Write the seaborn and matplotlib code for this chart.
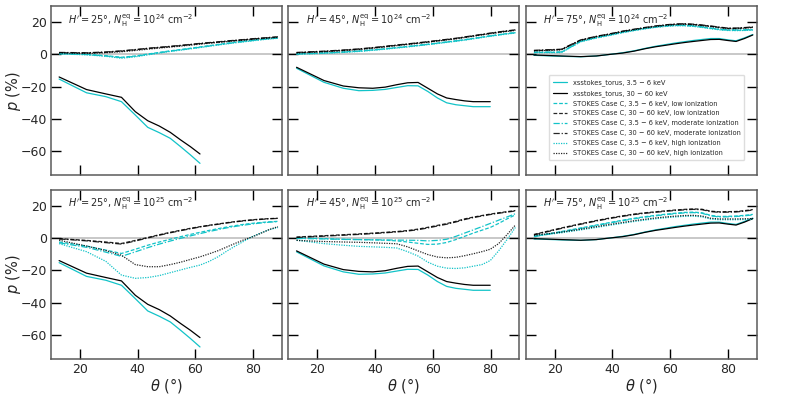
import matplotlib
matplotlib.use("Agg")
import matplotlib.pyplot as plt
import seaborn as sns
import numpy as np

# ---------------- data ----------------
THETA = [12.8, 22.3, 29.0, 34.4, 39.2, 43.5, 47.5, 51.3, 54.9, 58.3,
         61.6, 64.8, 68.0, 71.0, 74.0, 77.0, 79.9, 82.8, 85.7, 88.6]

# xsstokes_torus (same in both N_H rows)
xs_soft_h25 = [-15.3, -23.8, -26.2, -29.3, -37.6, -45.2, -48.5, -52.0, -57.2, -62.3, -67.5]
xs_hard_h25 = [-14.0, -21.8, -24.5, -26.6, -35.5, -41.1, -44.4, -48.3, -53.0, -57.2, -61.7]
xs_soft_h45 = [-8.6, -17.3, -21.0, -22.5, -22.3, -21.7, -20.5, -19.4, -19.5, -23.0,
               -27.0, -30.0, -31.2, -31.8, -32.4, -32.4, -32.4]
xs_hard_h45 = [-8.0, -16.2, -19.6, -20.7, -21.0, -20.3, -18.8, -17.6, -17.4, -21.0,
               -24.5, -27.0, -28.0, -28.8, -29.3, -29.3, -29.3]
xs_soft_h75 = [-0.6, -1.2, -1.5, -1.0, 0.0, 1.0, 2.2, 3.7, 5.0, 6.0,
               7.0, 7.8, 8.6, 9.2, 9.8, 9.8, 9.0, 8.4, 10.2, 12.3]
xs_hard_h75 = [-0.4, -1.0, -1.4, -1.0, 0.0, 0.8, 2.0, 3.5, 4.7, 5.6,
               6.5, 7.3, 8.0, 8.6, 9.2, 9.3, 8.6, 8.0, 9.8, 12.0]

# STOKES Case C, N_H = 1e24
s24_h25_soft_low = [0.5, 0.0, -0.8, -1.8, -1.0, 0.2, 1.2, 2.2, 3.0, 3.8, 4.6, 5.4, 6.2, 6.9, 7.6, 8.2, 8.8, 9.3, 9.8, 10.2]
s24_h25_hard_low = [1.0, 0.8, 1.3, 2.0, 2.8, 3.6, 4.2, 4.8, 5.4, 6.0, 6.6, 7.1, 7.6, 8.1, 8.6, 9.0, 9.5, 9.9, 10.3, 10.7]
s24_h25_soft_mod = [0.4, -0.1, -1.0, -2.0, -1.2, 0.0, 1.0, 2.0, 2.8, 3.6, 4.4, 5.2, 6.0, 6.7, 7.4, 8.0, 8.6, 9.2, 9.7, 10.1]
s24_h25_hard_mod = [1.2, 1.0, 1.5, 2.2, 3.0, 3.8, 4.4, 5.0, 5.6, 6.2, 6.8, 7.3, 7.8, 8.3, 8.8, 9.2, 9.7, 10.1, 10.5, 10.9]
s24_h25_soft_high = [0.3, -0.3, -1.2, -2.4, -1.5, -0.3, 0.8, 1.8, 2.6, 3.4, 4.2, 5.0, 5.8, 6.5, 7.2, 7.8, 8.4, 9.0, 9.5, 10.0]
s24_h25_hard_high = [0.8, 0.5, 1.0, 1.6, 2.4, 3.2, 3.9, 4.5, 5.1, 5.7, 6.3, 6.9, 7.4, 7.9, 8.4, 8.8, 9.3, 9.7, 10.1, 10.5]

s24_h45_soft_low = [0.3, 0.9, 1.5, 2.1, 2.8, 3.5, 4.2, 4.9, 5.6, 6.3, 7.0, 7.7, 8.4, 9.1, 9.9, 10.7, 11.5, 12.2, 12.9, 13.5]
s24_h45_hard_low = [1.0, 1.8, 2.5, 3.2, 4.0, 4.8, 5.6, 6.3, 7.0, 7.7, 8.4, 9.1, 9.8, 10.6, 11.4, 12.2, 13.0, 13.7, 14.4, 15.0]
s24_h45_soft_mod = [0.2, 0.8, 1.4, 2.0, 2.7, 3.4, 4.1, 4.8, 5.5, 6.2, 6.9, 7.6, 8.3, 9.0, 9.8, 10.6, 11.4, 12.1, 12.8, 13.4]
s24_h45_hard_mod = [1.2, 2.0, 2.7, 3.4, 4.2, 5.0, 5.8, 6.5, 7.2, 7.9, 8.6, 9.3, 10.0, 10.8, 11.6, 12.4, 13.2, 13.9, 14.6, 15.2]
s24_h45_soft_high = [0.0, 0.6, 1.2, 1.8, 2.5, 3.2, 3.9, 4.6, 5.3, 6.0, 6.7, 7.4, 8.1, 8.8, 9.6, 10.4, 11.2, 11.9, 12.6, 13.2]
s24_h45_hard_high = [0.8, 1.6, 2.3, 3.0, 3.8, 4.6, 5.4, 6.1, 6.8, 7.5, 8.2, 8.9, 9.6, 10.4, 11.2, 12.0, 12.8, 13.5, 14.2, 14.8]

s24_h75_soft_low = [1.2, 1.3, 8.0, 10.3, 12.0, 13.6, 14.9, 16.0, 16.9, 17.5, 17.9, 17.9, 17.5, 16.9, 16.1, 15.4, 15.0, 14.9, 15.0, 15.2]
s24_h75_hard_low = [2.3, 3.0, 8.8, 11.0, 12.6, 14.2, 15.4, 16.5, 17.4, 18.1, 18.6, 18.8, 18.5, 18.0, 17.4, 16.7, 16.1, 16.1, 16.4, 16.8]
s24_h75_soft_mod = [1.4, 1.5, 8.2, 10.5, 12.2, 13.8, 15.1, 16.2, 17.1, 17.7, 18.1, 18.1, 17.7, 17.1, 16.3, 15.6, 15.2, 15.1, 15.2, 15.4]
s24_h75_hard_mod = [2.5, 3.2, 9.0, 11.2, 12.8, 14.4, 15.6, 16.7, 17.6, 18.3, 18.8, 19.0, 18.7, 18.2, 17.6, 16.9, 16.3, 16.3, 16.6, 17.0]
s24_h75_soft_high = [1.0, 1.1, 7.8, 10.1, 11.8, 13.4, 14.7, 15.8, 16.7, 17.3, 17.7, 17.7, 17.3, 16.7, 15.9, 15.2, 14.8, 14.7, 14.8, 15.0]
s24_h75_hard_high = [2.1, 2.8, 8.6, 10.8, 12.4, 14.0, 15.2, 16.3, 17.2, 17.9, 18.4, 18.6, 18.3, 17.8, 17.2, 16.5, 15.9, 15.9, 16.2, 16.6]

# STOKES Case C, N_H = 1e25
s25_h25_soft_low = [-2.5, -5.0, -7.5, -9.6, -7.0, -4.5, -2.5, -0.8, 0.8, 2.2, 3.5, 4.7, 5.8, 6.8, 7.7, 8.5, 9.1, 9.6, 10.0, 10.3]
s25_h25_hard_low = [-0.4, -1.5, -2.5, -3.4, -1.5, 0.3, 2.0, 3.5, 4.8, 6.0, 7.0, 7.9, 8.7, 9.5, 10.2, 10.8, 11.3, 11.7, 12.0, 12.2]
s25_h25_soft_mod = [-3.0, -5.8, -8.8, -11.4, -8.6, -6.0, -3.8, -1.9, -0.2, 1.3, 2.7, 4.0, 5.2, 6.3, 7.2, 8.0, 8.7, 9.3, 9.8, 10.1]
s25_h25_hard_mod = [-0.6, -1.8, -2.9, -3.8, -1.9, 0.0, 1.7, 3.2, 4.5, 5.7, 6.8, 7.7, 8.5, 9.3, 10.0, 10.6, 11.1, 11.5, 11.9, 12.1]
s25_h25_soft_high = [-3.5, -8.5, -14.5, -23.0, -25.0, -24.5, -23.3, -21.5, -19.8, -18.2, -16.8, -14.5, -11.5, -8.0, -4.8, -1.8, 1.0, 3.2, 5.2, 6.5]
s25_h25_hard_high = [-1.4, -5.0, -7.8, -10.7, -16.5, -17.8, -17.8, -16.5, -15.0, -13.3, -11.7, -9.8, -7.8, -5.5, -3.2, -1.0, 0.8, 3.0, 5.3, 7.0]

s25_h45_soft_low = [0.0, -0.4, -0.8, -1.0, -1.2, -1.4, -1.8, -2.5, -3.3, -4.0, -3.8, -2.8, -1.0, 1.0, 3.0, 4.8, 6.5, 9.0, 11.8, 14.3]
s25_h45_hard_low = [0.6, 1.4, 2.0, 2.5, 3.0, 3.5, 4.0, 4.6, 5.5, 6.6, 7.8, 8.9, 10.3, 11.8, 12.9, 13.9, 14.8, 15.6, 16.3, 17.0]
s25_h45_soft_mod = [-0.3, -0.6, -0.9, -1.0, -1.1, -1.2, -1.3, -1.4, -1.5, -1.8, -1.5, -0.8, 1.0, 3.0, 5.0, 7.0, 9.0, 11.0, 13.0, 15.0]
s25_h45_hard_mod = [0.3, 1.1, 1.7, 2.2, 2.7, 3.2, 3.7, 4.3, 5.1, 6.2, 7.4, 8.5, 9.9, 11.4, 12.6, 13.6, 14.5, 15.3, 16.0, 16.7]
s25_h45_soft_high = [-1.4, -3.5, -4.5, -5.2, -5.5, -5.8, -6.2, -8.5, -11.2, -15.0, -17.5, -18.7, -18.9, -18.5, -17.5, -16.5, -14.0, -8.0, -1.0, 6.5]
s25_h45_hard_high = [-1.5, -2.2, -2.5, -2.7, -3.0, -3.3, -3.6, -5.5, -8.0, -10.3, -11.8, -12.3, -12.0, -11.0, -9.8, -8.5, -7.0, -3.5, 2.0, 8.0]

s25_h75_soft_low = [1.0, 4.0, 6.2, 8.0, 9.6, 11.0, 12.2, 13.2, 14.0, 14.7, 15.3, 15.8, 16.0, 15.6, 14.0, 13.3, 13.4, 13.6, 14.0, 14.6]
s25_h75_hard_low = [2.2, 6.2, 8.8, 10.8, 12.4, 13.7, 14.8, 15.6, 16.2, 16.8, 17.3, 17.7, 18.0, 17.8, 16.6, 16.2, 16.3, 16.4, 16.9, 17.6]
s25_h75_soft_mod = [0.8, 3.7, 5.9, 7.7, 9.3, 10.7, 11.9, 12.9, 13.7, 14.4, 15.0, 15.5, 15.7, 15.3, 13.7, 13.0, 13.1, 13.3, 13.7, 14.3]
s25_h75_hard_mod = [1.9, 5.9, 8.5, 10.5, 12.1, 13.4, 14.5, 15.3, 15.9, 16.5, 17.0, 17.4, 17.7, 17.5, 16.3, 15.9, 16.0, 16.1, 16.6, 17.3]
s25_h75_soft_high = [1.2, 3.2, 5.0, 6.5, 7.9, 9.1, 10.2, 11.1, 11.9, 12.5, 13.0, 13.4, 13.5, 13.1, 11.7, 11.3, 11.3, 11.3, 11.4, 11.5]
s25_h75_hard_high = [1.6, 3.6, 5.4, 7.0, 8.4, 9.6, 10.7, 11.6, 12.4, 13.0, 13.5, 13.9, 14.0, 13.6, 12.2, 11.8, 11.8, 11.8, 11.9, 12.0]

H_ANGLES = [25, 45, 75]
NH_EXP = [24, 25]
LEGEND_LABELS = [
    "xsstokes_torus, 3.5 − 6 keV",
    "xsstokes_torus, 30 − 60 keV",
    "STOKES Case C, 3.5 − 6 keV, low ionization",
    "STOKES Case C, 30 − 60 keV, low ionization",
    "STOKES Case C, 3.5 − 6 keV, moderate ionization",
    "STOKES Case C, 30 − 60 keV, moderate ionization",
    "STOKES Case C, 3.5 − 6 keV, high ionization",
    "STOKES Case C, 30 − 60 keV, high ionization",
]

XS = {25: (xs_soft_h25, xs_hard_h25), 45: (xs_soft_h45, xs_hard_h45), 75: (xs_soft_h75, xs_hard_h75)}
ST = {
    (24, 25): [s24_h25_soft_low, s24_h25_hard_low, s24_h25_soft_mod, s24_h25_hard_mod, s24_h25_soft_high, s24_h25_hard_high],
    (24, 45): [s24_h45_soft_low, s24_h45_hard_low, s24_h45_soft_mod, s24_h45_hard_mod, s24_h45_soft_high, s24_h45_hard_high],
    (24, 75): [s24_h75_soft_low, s24_h75_hard_low, s24_h75_soft_mod, s24_h75_hard_mod, s24_h75_soft_high, s24_h75_hard_high],
    (25, 25): [s25_h25_soft_low, s25_h25_hard_low, s25_h25_soft_mod, s25_h25_hard_mod, s25_h25_soft_high, s25_h25_hard_high],
    (25, 45): [s25_h45_soft_low, s25_h45_hard_low, s25_h45_soft_mod, s25_h45_hard_mod, s25_h45_soft_high, s25_h45_hard_high],
    (25, 75): [s25_h75_soft_low, s25_h75_hard_low, s25_h75_soft_mod, s25_h75_hard_mod, s25_h75_soft_high, s25_h75_hard_high],
}

# ---------------- style ----------------
sns.set_style("ticks")
plt.rcParams['font.family'] = ['DejaVu Sans']
plt.rcParams['mathtext.fontset'] = 'dejavusans'

CYAN = "#12c3c8"
BLACK = "black"
st_styles = [(CYAN, (0, (3, 1.5))), (BLACK, (0, (3, 1.5))),
             (CYAN, (0, (5, 1.5, 1, 1.5))), (BLACK, (0, (5, 1.5, 1, 1.5))),
             (CYAN, (0, (1, 1))), (BLACK, (0, (1, 1)))]

fig, axes = plt.subplots(2, 3, figsize=(7.9, 3.95), dpi=100, sharex=True, sharey=True)
fig.subplots_adjust(left=0.0646, right=0.958, top=0.985, bottom=0.091, wspace=0.028, hspace=0.083)

for r, nh in enumerate(NH_EXP):
    for c, h in enumerate(H_ANGLES):
        ax = axes[r, c]
        ax.axhline(0, color="#c8c8c8", lw=1.4, zorder=0)
        soft, hard = XS[h]
        sns.lineplot(x=THETA[:len(soft)], y=soft, ax=ax, color=CYAN, lw=0.9, sort=False,
                     label=LEGEND_LABELS[0])
        sns.lineplot(x=THETA[:len(hard)], y=hard, ax=ax, color=BLACK, lw=0.9, sort=False,
                     label=LEGEND_LABELS[1])
        for k, vals in enumerate(ST[(nh, h)]):
            col, ls = st_styles[k]
            sns.lineplot(x=THETA[:len(vals)], y=vals, ax=ax, color=col, lw=0.9,
                         linestyle=ls, sort=False, alpha=0.85 if col == BLACK else 1.0,
                         label=LEGEND_LABELS[2 + k])
        leg = ax.get_legend()
        if leg is not None:
            leg.remove()
        ax.text(0.075, 0.915, r"$H' = %d\degree$, $N_{\rm H}^{\rm eq} = 10^{%d}$ cm$^{-2}$" % (h, nh),
                transform=ax.transAxes, fontsize=7, ha="left", va="center")
        ax.set_xlim(10, 90)
        ax.set_ylim(-75, 30)
        ax.set_xticks([20, 40, 60, 80])
        ax.set_yticks([-60, -40, -20, 0, 20])
        ax.tick_params(direction="in", length=7, width=1.0, top=True, right=True,
                       labelsize=9, color="black", pad=3)
        for sp in ax.spines.values():
            sp.set_color("#5a5a5a")
            sp.set_linewidth(1.1)
        ax.set_xlabel(r"$\theta$ (°)" if r == 1 else "", fontsize=10.5, labelpad=0)
        ax.set_ylabel(r"$p$ (%)" if c == 0 else "", fontsize=10.5, labelpad=-1.5)

h, l = axes[0, 2].get_legend_handles_labels()
axes[0, 2].legend(h, l, loc="lower left", bbox_to_anchor=(0.085, 0.07), fontsize=4.75,
                  labelspacing=0.6, handlelength=2.2, frameon=True, framealpha=1,
                  edgecolor="#dddddd", borderpad=0.6)

fig.savefig("out.png", dpi=100)
